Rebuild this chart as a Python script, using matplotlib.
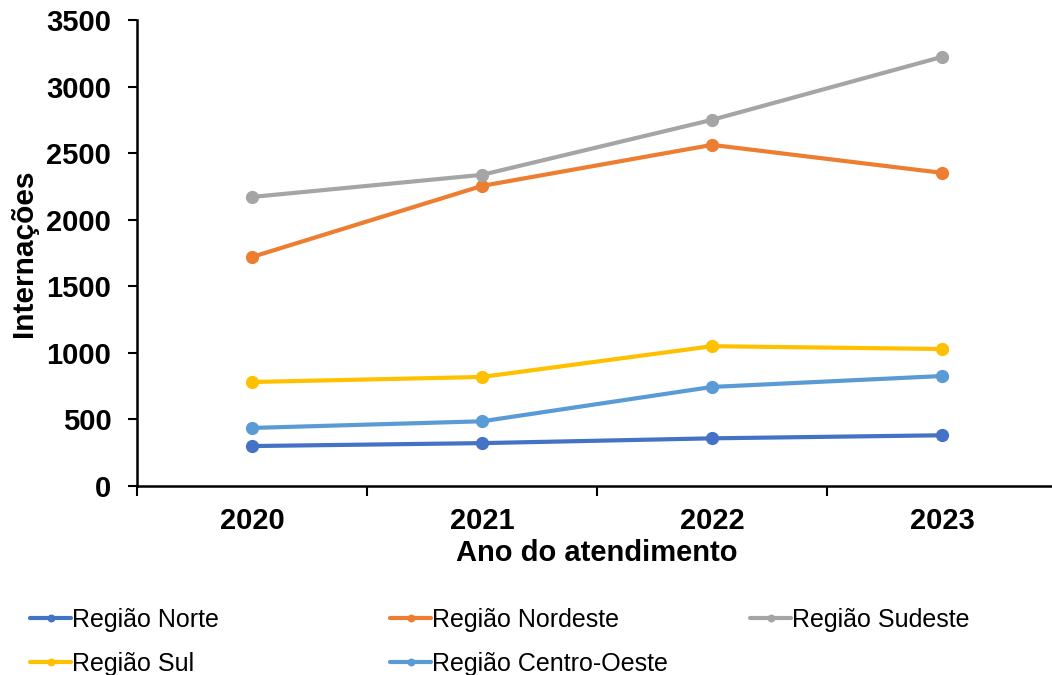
import matplotlib
matplotlib.use("Agg")
import matplotlib.pyplot as plt

plt.rcParams['font.family'] = ['Liberation Sans', 'DejaVu Sans']

anos = ["2020", "2021", "2022", "2023"]
norte = [300, 322, 358, 381]
nordeste = [1720, 2254, 2562, 2352]
sudeste = [2171, 2337, 2750, 3223]
sul = [781, 819, 1050, 1029]
centro_oeste = [436, 486, 744, 826]

series = [
    ("Região Norte", norte, "#4472C4"),
    ("Região Nordeste", nordeste, "#ED7D31"),
    ("Região Sudeste", sudeste, "#A5A5A5"),
    ("Região Sul", sul, "#FFC000"),
    ("Região Centro-Oeste", centro_oeste, "#5B9BD5"),
]

FS = 21

fig = plt.figure(figsize=(10.52, 6.75), dpi=100)
ax = fig.add_axes([137 / 1052, 1 - 486 / 675, 920 / 1052, 466 / 675])

x = list(range(len(anos)))
handles = {}
for nome, vals, cor in series:
    h, = ax.plot(x, vals, color=cor, linewidth=3, marker="o", markersize=8.5,
                 solid_capstyle="round", label=nome)
    handles[nome] = h

ax.set_xlim(-0.5, len(anos) - 0.5)
ax.set_ylim(0, 3500)
ax.set_yticks(range(0, 3501, 500))

# category boundaries get tick marks, centres get the labels
ax.set_xticks([i - 0.5 for i in range(len(anos) + 1)])
ax.set_xticklabels([])
ax.set_xticks(x, minor=True)
ax.set_xticklabels(anos, minor=True, fontsize=FS, fontweight="bold")
ax.tick_params(axis="x", which="major", length=7, width=1.5, direction="out")
ax.tick_params(axis="x", which="minor", length=0, pad=15)
ax.tick_params(axis="y", length=6.5, width=1.5, direction="out", pad=12)
for lab in ax.get_yticklabels():
    lab.set_fontsize(FS)
    lab.set_fontweight("bold")

for s in ["top", "right"]:
    ax.spines[s].set_visible(False)
for s in ["left", "bottom"]:
    ax.spines[s].set_linewidth(1.8)

ax.set_xlabel("Ano do atendimento", fontsize=FS, fontweight="bold", labelpad=3)
ax.set_ylabel("Internações", fontsize=21.5, fontweight="bold", labelpad=6)

columns = [
    (["Região Norte", "Região Sul"], 30),
    (["Região Nordeste", "Região Centro-Oeste"], 390),
    (["Região Sudeste"], 750),
]
for nomes, xpix in columns:
    fig.legend([handles[n] for n in nomes], nomes, loc="upper left",
               bbox_to_anchor=(xpix / 1052, 1 - 608 / 675),
               frameon=False, fontsize=18, handlelength=1.65,
               handletextpad=0.05, labelspacing=0.8, markerscale=0.55,
               borderaxespad=0, borderpad=0)

fig.savefig("out.png", dpi=100)
